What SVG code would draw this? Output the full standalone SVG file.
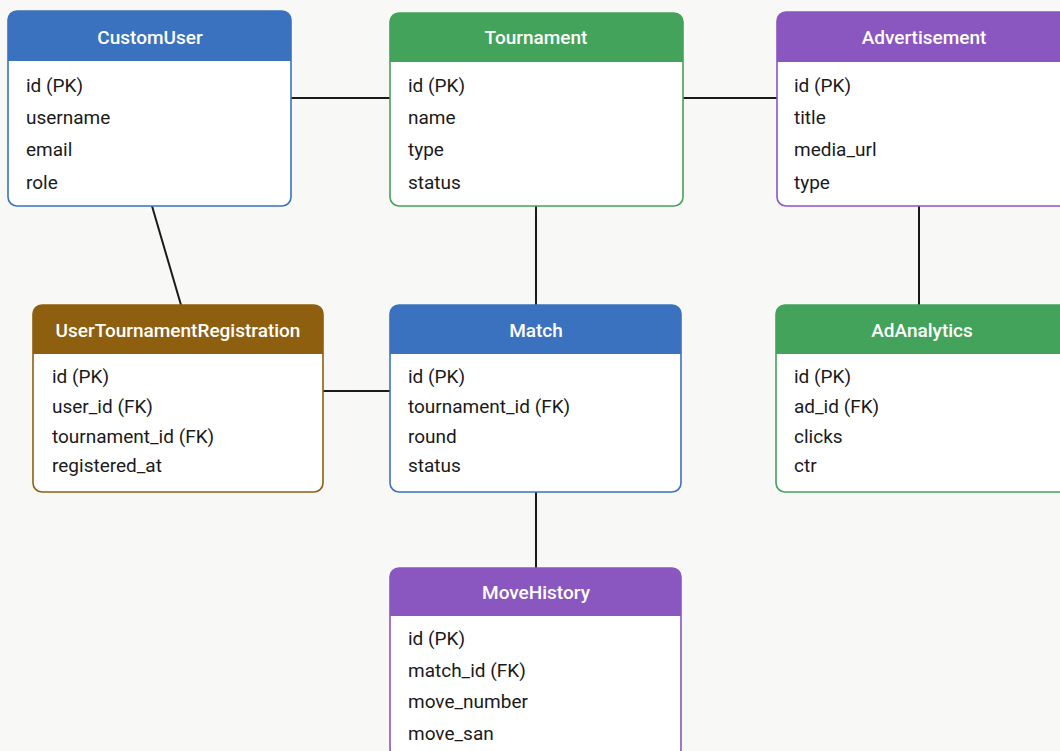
<svg xmlns="http://www.w3.org/2000/svg" width="1060" height="751" viewBox="0 0 1060 751">
<style>
.bg{fill:#f8f8f7}
.box{fill:#ffffff;stroke-width:1.6}
.title{font-family:Roboto,"Liberation Sans",sans-serif;font-size:19px;font-weight:500;fill:#ffffff;text-anchor:middle}
.row{font-family:Roboto,"Liberation Sans",sans-serif;font-size:19px;fill:#1a1a1a}
.conn{stroke:#1a1a1a;stroke-width:2;fill:none}
</style>
<rect class="bg" x="0" y="0" width="1060" height="751"/>
<g id="connectors">
<line class="conn" x1="291" y1="98" x2="390" y2="98"/>
<line class="conn" x1="683" y1="98" x2="777" y2="98"/>
<line class="conn" x1="152" y1="206" x2="181" y2="305"/>
<line class="conn" x1="536" y1="206" x2="536" y2="305"/>
<line class="conn" x1="919" y1="206" x2="919" y2="305"/>
<line class="conn" x1="323" y1="391" x2="390" y2="391"/>
<line class="conn" x1="536" y1="492" x2="536" y2="568"/>
</g>
<g id="CustomUser">
<rect class="box" x="8" y="11" width="283" height="195" rx="9" stroke="#3a72c0"/>
<path d="M8 61 V20 a9 9 0 0 1 9 -9 H282 a9 9 0 0 1 9 9 V61 Z" fill="#3a72c0"/>
<text class="title" x="150" y="44">CustomUser</text>
<text class="row" x="26" y="92">id (PK)</text>
<text class="row" x="26" y="124">username</text>
<text class="row" x="26" y="156">email</text>
<text class="row" x="26" y="189">role</text>
</g>
<g id="Tournament">
<rect class="box" x="390" y="13" width="293" height="193" rx="9" stroke="#43a35a"/>
<path d="M390 62 V22 a9 9 0 0 1 9 -9 H674 a9 9 0 0 1 9 9 V62 Z" fill="#43a35a"/>
<text class="title" x="536" y="44">Tournament</text>
<text class="row" x="408" y="92">id (PK)</text>
<text class="row" x="408" y="124">name</text>
<text class="row" x="408" y="156">type</text>
<text class="row" x="408" y="189">status</text>
</g>
<g id="Advertisement">
<rect class="box" x="777" y="12" width="293" height="194" rx="9" stroke="#8a56c0"/>
<path d="M777 62 V21 a9 9 0 0 1 9 -9 H1061 a9 9 0 0 1 9 9 V62 Z" fill="#8a56c0"/>
<text class="title" x="924" y="44">Advertisement</text>
<text class="row" x="794" y="92">id (PK)</text>
<text class="row" x="794" y="124">title</text>
<text class="row" x="794" y="156">media_url</text>
<text class="row" x="794" y="189">type</text>
</g>
<g id="UserTournamentRegistration">
<rect class="box" x="33" y="305" width="290" height="187" rx="9" stroke="#8e5f0e"/>
<path d="M33 354 V314 a9 9 0 0 1 9 -9 H314 a9 9 0 0 1 9 9 V354 Z" fill="#8e5f0e"/>
<text class="title" x="178" y="337">UserTournamentRegistration</text>
<text class="row" x="52" y="383">id (PK)</text>
<text class="row" x="52" y="413">user_id (FK)</text>
<text class="row" x="52" y="443">tournament_id (FK)</text>
<text class="row" x="52" y="472">registered_at</text>
</g>
<g id="Match">
<rect class="box" x="390" y="305" width="291" height="187" rx="9" stroke="#3a72c0"/>
<path d="M390 354 V314 a9 9 0 0 1 9 -9 H672 a9 9 0 0 1 9 9 V354 Z" fill="#3a72c0"/>
<text class="title" x="536" y="337">Match</text>
<text class="row" x="408" y="383">id (PK)</text>
<text class="row" x="408" y="413">tournament_id (FK)</text>
<text class="row" x="408" y="443">round</text>
<text class="row" x="408" y="472">status</text>
</g>
<g id="AdAnalytics">
<rect class="box" x="776" y="305" width="294" height="187" rx="9" stroke="#43a35a"/>
<path d="M776 354 V314 a9 9 0 0 1 9 -9 H1061 a9 9 0 0 1 9 9 V354 Z" fill="#43a35a"/>
<text class="title" x="922" y="337">AdAnalytics</text>
<text class="row" x="794" y="383">id (PK)</text>
<text class="row" x="794" y="413">ad_id (FK)</text>
<text class="row" x="794" y="443">clicks</text>
<text class="row" x="794" y="472">ctr</text>
</g>
<g id="MoveHistory">
<rect class="box" x="390" y="568" width="291" height="190" rx="9" stroke="#8a56c0"/>
<path d="M390 616 V577 a9 9 0 0 1 9 -9 H672 a9 9 0 0 1 9 9 V616 Z" fill="#8a56c0"/>
<text class="title" x="536" y="599">MoveHistory</text>
<text class="row" x="408" y="645">id (PK)</text>
<text class="row" x="408" y="677">match_id (FK)</text>
<text class="row" x="408" y="708">move_number</text>
<text class="row" x="408" y="740">move_san</text>
</g>
</svg>
